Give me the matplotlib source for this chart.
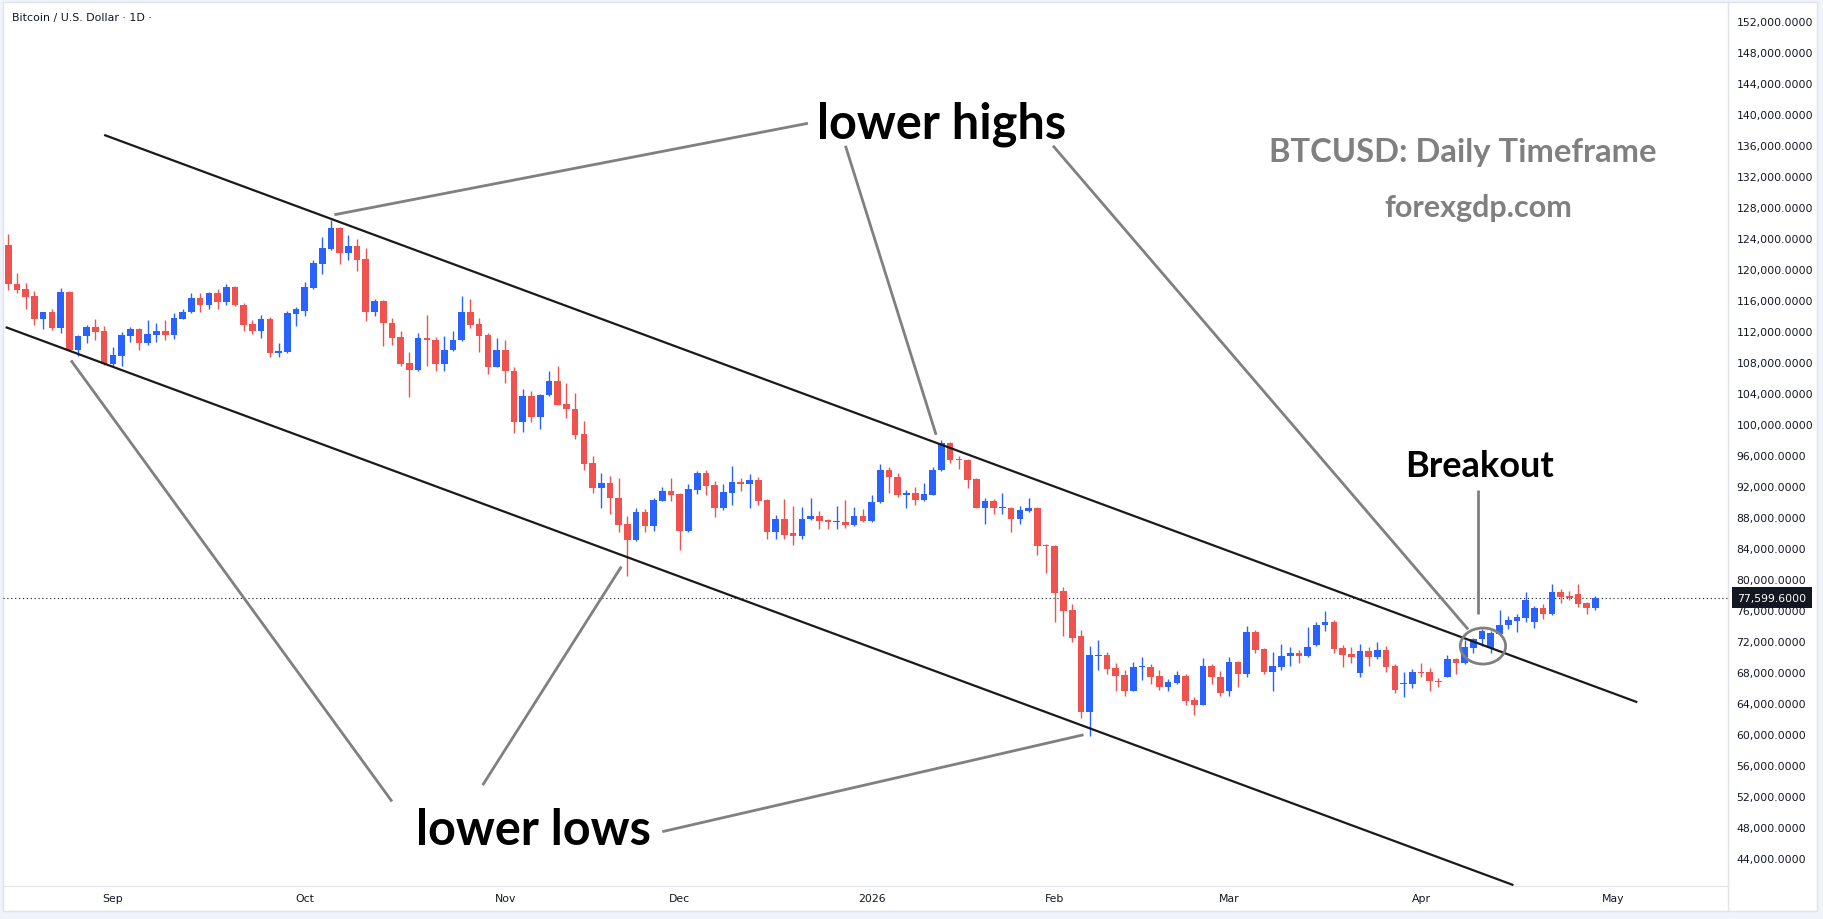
import matplotlib
matplotlib.use('Agg')
import matplotlib.pyplot as plt
from matplotlib.patches import Ellipse, Rectangle
from matplotlib.lines import Line2D
import numpy as np
import pandas as pd

# daily candles (weekdays only), prices in thousands of USD
first_day = '2025-08-14'
holidays = ['2025-12-25', '2026-01-01']

opens = [123.1, 118.1, 117.4, 116.5, 113.5, 114.4, 112.4, 117.0, 109.5, 111.3,
         112.5, 112.0, 107.7, 108.8, 111.4, 112.3, 110.4, 111.5, 112.0, 111.5,
         113.6, 114.4, 116.3, 115.4, 116.9, 115.7, 117.7, 115.4, 112.9, 112.0,
         113.5, 109.2, 109.3, 114.2, 114.6, 117.5, 120.7, 122.6, 125.3, 122.0,
         123.0, 121.3, 114.5, 115.9, 113.0, 111.2, 107.9, 107.0, 111.1, 110.8,
         107.7, 109.5, 110.8, 114.5, 112.9, 111.5, 107.4, 109.5, 106.9, 100.2,
         103.6, 100.9, 103.7, 105.6, 102.6, 101.9, 98.7, 95.0, 91.7, 92.4,
         90.4, 87.1, 85.0, 88.6, 86.9, 90.1, 91.4, 91.0, 86.2, 91.5,
         93.7, 92.1, 89.1, 91.1, 92.5, 92.2, 92.8, 90.2, 86.1, 87.7,
         85.9, 85.5, 87.7, 88.1, 87.6, 87.3, 87.4, 87.0, 88.1, 87.5,
         89.9, 94.1, 93.2, 90.9, 91.1, 90.2, 90.9, 94.0, 97.6, 95.5,
         95.4, 92.9, 89.2, 90.1, 89.1, 89.2, 87.8, 88.8, 89.2, 84.3,
         84.3, 78.4, 76.0, 72.6, 62.8, 70.1, 70.2, 68.5, 67.6, 65.6,
         68.6, 68.7, 67.5, 66.1, 66.6, 67.5, 64.4, 63.8, 68.8, 67.4,
         65.5, 69.3, 67.8, 73.2, 71.0, 68.0, 68.7, 70.0, 70.5, 70.0,
         71.5, 74.0, 74.5, 71.1, 70.3, 67.9, 70.7, 69.9, 70.8, 68.8,
         66.4, 66.4, 68.0, 68.0, 66.8, 67.4, 69.7, 69.1, 71.1, 72.2,
         71.1, 72.9, 74.0, 74.6, 75.0, 74.5, 76.3, 75.5, 78.3, 77.8,
         78.1, 76.9, 76.3]
highs = [124.5, 119.5, 118.2, 117.2, 114.5, 114.8, 117.5, 117.1, 111.5, 112.8,
         113.6, 112.6, 109.9, 111.9, 112.5, 112.4, 113.4, 113.0, 113.4, 114.3,
         114.8, 116.9, 116.9, 117.0, 117.4, 118.1, 117.8, 115.6, 113.4, 114.1,
         113.8, 110.5, 114.6, 115.1, 118.3, 121.2, 124.1, 126.3, 125.4, 124.4,
         123.9, 122.7, 116.1, 116.0, 113.7, 112.0, 109.3, 111.7, 114.1, 111.2,
         111.4, 112.0, 116.5, 116.1, 113.7, 111.7, 111.1, 110.8, 107.4, 104.5,
         104.3, 103.9, 106.8, 107.5, 105.3, 104.0, 100.4, 95.9, 93.7, 93.3,
         93.0, 88.1, 89.2, 89.0, 90.5, 91.9, 93.0, 91.1, 92.3, 93.9,
         94.1, 92.6, 92.3, 94.6, 93.0, 93.6, 93.2, 90.3, 88.2, 90.3,
         89.4, 89.3, 90.5, 88.8, 87.8, 89.4, 90.2, 89.3, 89.0, 90.8,
         94.8, 94.5, 93.7, 91.5, 91.9, 92.4, 94.5, 97.9, 97.7, 95.9,
         95.5, 93.0, 90.5, 90.3, 91.1, 89.3, 89.4, 90.5, 89.3, 84.5,
         84.4, 79.0, 76.8, 73.4, 71.4, 72.1, 70.6, 69.2, 68.3, 69.3,
         69.9, 69.0, 68.3, 67.1, 68.1, 67.7, 64.8, 69.8, 69.0, 68.1,
         69.9, 69.4, 73.9, 73.4, 71.1, 70.6, 71.6, 71.2, 70.8, 73.8,
         74.5, 75.9, 74.7, 71.5, 71.2, 71.6, 71.2, 71.9, 71.4, 69.0,
         68.0, 68.4, 69.2, 68.5, 67.2, 70.2, 69.8, 72.1, 72.4, 73.5,
         73.3, 76.0, 75.2, 75.5, 78.3, 76.5, 76.8, 79.4, 78.7, 78.5,
         79.4, 77.0, 77.8]
lows = [117.3, 116.9, 114.8, 112.8, 112.3, 112.1, 111.8, 109.4, 108.8, 110.4,
        110.9, 107.6, 107.3, 107.5, 110.6, 109.5, 110.2, 110.6, 110.9, 111.0,
        113.5, 114.3, 114.5, 114.9, 114.9, 115.4, 115.2, 112.0, 111.6, 111.1,
        108.7, 108.7, 109.2, 112.7, 113.9, 117.4, 119.4, 122.4, 120.7, 121.2,
        119.8, 113.3, 113.9, 110.0, 110.2, 107.5, 103.5, 106.9, 107.5, 106.9,
        106.8, 109.4, 110.7, 112.4, 109.3, 106.4, 107.3, 105.3, 98.9, 99.0,
        100.3, 99.3, 103.6, 102.4, 100.8, 98.0, 94.1, 91.1, 89.2, 88.4,
        86.0, 80.4, 84.9, 86.0, 86.2, 90.0, 90.1, 83.8, 86.1, 91.0,
        90.9, 88.0, 88.9, 89.5, 91.4, 89.1, 89.5, 85.1, 85.2, 85.2,
        84.4, 85.1, 87.6, 86.5, 86.4, 86.5, 86.6, 86.8, 87.3, 87.4,
        89.8, 91.1, 90.6, 89.2, 89.6, 90.0, 90.8, 93.9, 95.0, 94.2,
        91.8, 89.1, 87.1, 88.4, 88.4, 86.0, 87.1, 88.7, 83.1, 80.8,
        74.4, 72.7, 71.9, 62.1, 59.8, 68.2, 67.8, 65.6, 64.9, 65.5,
        67.0, 66.5, 65.7, 65.5, 66.4, 63.8, 62.4, 63.7, 66.4, 64.9,
        64.9, 66.0, 67.3, 70.5, 67.7, 65.5, 68.3, 68.8, 69.1, 69.9,
        71.4, 73.3, 70.4, 68.7, 69.2, 67.3, 68.8, 69.7, 68.0, 65.3,
        64.8, 65.9, 67.3, 65.6, 66.1, 67.3, 67.7, 69.0, 70.4, 71.4,
        70.4, 72.8, 73.6, 73.1, 74.5, 73.7, 74.8, 75.3, 76.9, 77.3,
        76.4, 75.5, 76.0]
closes = [118.0, 117.3, 116.4, 113.5, 114.4, 112.4, 117.0, 109.5, 111.4, 112.5,
          111.9, 107.7, 108.9, 111.5, 112.3, 110.4, 111.6, 112.0, 111.5, 113.7,
          114.4, 116.3, 115.4, 116.9, 115.7, 117.7, 115.3, 112.8, 112.0, 113.5,
          109.2, 109.4, 114.3, 114.8, 117.7, 120.8, 122.7, 125.3, 122.0, 123.0,
          121.2, 114.5, 115.9, 113.0, 111.1, 107.8, 107.0, 111.1, 110.8, 107.7,
          109.6, 110.8, 114.5, 112.8, 111.4, 107.4, 109.5, 106.8, 100.2, 103.6,
          100.9, 103.7, 105.6, 102.5, 101.9, 98.6, 94.8, 91.7, 92.4, 90.4,
          87.0, 85.0, 88.6, 86.9, 90.2, 91.4, 90.9, 86.2, 91.6, 93.7,
          92.0, 89.1, 91.2, 92.5, 92.2, 92.8, 90.1, 86.1, 87.7, 85.7,
          85.5, 87.7, 88.1, 87.5, 87.3, 87.4, 87.0, 88.1, 87.5, 89.9,
          94.1, 93.1, 90.9, 91.1, 90.2, 91.0, 94.1, 97.6, 95.4, 95.3,
          92.8, 89.2, 90.1, 89.1, 89.2, 87.8, 88.9, 89.2, 84.2, 84.2,
          78.2, 75.9, 72.4, 62.8, 70.2, 70.2, 68.4, 67.5, 65.6, 68.7,
          68.7, 67.4, 66.1, 66.7, 67.6, 64.3, 63.8, 68.8, 67.3, 65.3,
          69.3, 67.8, 73.2, 70.9, 68.0, 68.8, 70.1, 70.5, 70.0, 71.2,
          74.1, 74.5, 71.0, 70.2, 69.9, 70.7, 69.9, 70.8, 68.7, 65.7,
          66.5, 68.0, 67.9, 66.8, 66.75, 69.7, 69.1, 71.2, 72.3, 73.3,
          73.0, 74.1, 74.7, 75.1, 77.3, 76.3, 75.5, 78.3, 77.7, 77.6,
          76.8, 76.3, 77.5996]

# drawn channel / annotation anchors: (bar index, price in thousands)
upper_channel = [(11.0, 137.3), (186.8, 64.1)]
lower_channel = [(-0.3, 112.5), (172.6, 40.5)]
highs_pointers = [[(91.7, 138.8), (37.4, 127.0)],
                  [(96.0, 135.9), (106.4, 98.6)],
                  [(119.8, 135.9), (167.4, 73.5)]]
lows_pointers = [[(44.0, 51.3), (7.2, 108.2)],
                 [(54.4, 53.4), (70.3, 81.6)],
                 [(75.0, 47.4), (123.3, 59.9)]]
breakout_pointer = [(168.5, 91.5), (168.5, 75.5)]
breakout_circle = (169.1, 71.35, 5.2, 4.65)

up_color = '#2962FF'
down_color = '#EF5350'
text_color = '#131722'
grey = '#808080'

W, H = 1823, 920
fig = plt.figure(figsize=(W / 100, H / 100), dpi=100, facecolor='#f0f3fa')
fig.patches.append(Rectangle((3 / W, 8 / H), 1814 / W, 909 / H, transform=fig.transFigure,
                             facecolor='white', edgecolor='#e0e3eb', lw=1, zorder=-10))
fig.lines.append(Line2D([1728 / W, 1728 / W], [8 / H, 1 - 3 / H], transform=fig.transFigure,
                        color='#e0e3eb', lw=1, zorder=-5))
ax = fig.add_axes([3 / W, 1 - 887 / H, 1725 / W, 884 / H])
ax.set_facecolor('none')

o = np.array(opens) * 1000
h = np.array(highs) * 1000
l = np.array(lows) * 1000
c = np.array(closes) * 1000
x = np.arange(len(o))
colors = np.where(c >= o, up_color, down_color)

# candles
ax.vlines(x, l, h, colors=colors, lw=1.0, zorder=3)
body = np.maximum(np.abs(c - o), 130)
ax.bar(x, body, bottom=np.minimum(o, c), width=0.76, color=colors, zorder=4, linewidth=0)

# last price line
last = c[-1]
ax.axhline(last, color=text_color, lw=0.8, ls=(0, (1, 2.5)), zorder=2)
ax.annotate('{:,.4f}'.format(last), xy=(1, last), xycoords=('axes fraction', 'data'),
            xytext=(6.5, 0), textcoords='offset points', ha='left', va='center',
            color='white', fontsize=7.8, annotation_clip=False, zorder=10,
            bbox=dict(boxstyle='square,pad=0.5', fc=text_color, ec='none'))

# channel
for line in (upper_channel, lower_channel):
    xs, ys = zip(*line)
    ax.plot(xs, np.array(ys) * 1000, color='#1a1a1a', lw=1.6, zorder=5, solid_capstyle='butt')

# pointers
for line in highs_pointers + lows_pointers + [breakout_pointer]:
    xs, ys = zip(*line)
    ax.plot(xs, np.array(ys) * 1000, color=grey, lw=2.0, zorder=5, solid_capstyle='butt')
cx, cy, cw, ch = breakout_circle
ax.add_patch(Ellipse((cx, cy * 1000), cw, ch * 1000, fill=False, ec=grey, lw=2.0, zorder=6))

big = dict(family='Lato', weight='bold', ha='center', va='baseline', zorder=7)
ax.text(107.0, 137000, 'lower highs', fontsize=35, color='black', **big)
ax.text(60.2, 45780, 'lower lows', fontsize=35, color='black', **big)
ax.text(168.7, 93330, 'Breakout', fontsize=26, color='black', **big)
ax.text(166.8, 133990, 'BTCUSD: Daily Timeframe', fontsize=23.6, color=grey, **big)
ax.text(168.6, 126790, 'forexgdp.com', fontsize=22, color=grey, **big)

# axes
ax.set_xlim(-0.6, 197.2)
ax.set_ylim(40387, 154450)
ax.yaxis.tick_right()
yt = np.arange(44000, 152001, 4000)
ax.set_yticks(yt)
ax.set_yticklabels(['{:,.4f}'.format(v) for v in yt])

days = pd.bdate_range(first_day, '2026-05-29', freq='C', holidays=holidays)
month_pos, month_lab = [], []
for i in range(1, len(days)):
    if days[i].month != days[i - 1].month:
        month_pos.append(i)
        month_lab.append(str(days[i].year) if days[i].month == 1 else days[i].strftime('%b'))
ax.set_xticks(month_pos)
ax.set_xticklabels(month_lab)
ax.tick_params(length=0, labelsize=7.8, labelcolor=text_color)
ax.tick_params(axis='y', pad=6.0)
ax.tick_params(axis='x', pad=5.3)
for side in ('top', 'left'):
    ax.spines[side].set_visible(False)
for side in ('right', 'bottom'):
    ax.spines[side].set_color('#e0e3eb')

fig.text(12 / W, 1 - 18 / H, 'Bitcoin / U.S. Dollar \u00b7 1D \u00b7', fontsize=7.9,
         color=text_color, va='center', ha='left')

fig.savefig('out.png', dpi=100, facecolor=fig.get_facecolor())
